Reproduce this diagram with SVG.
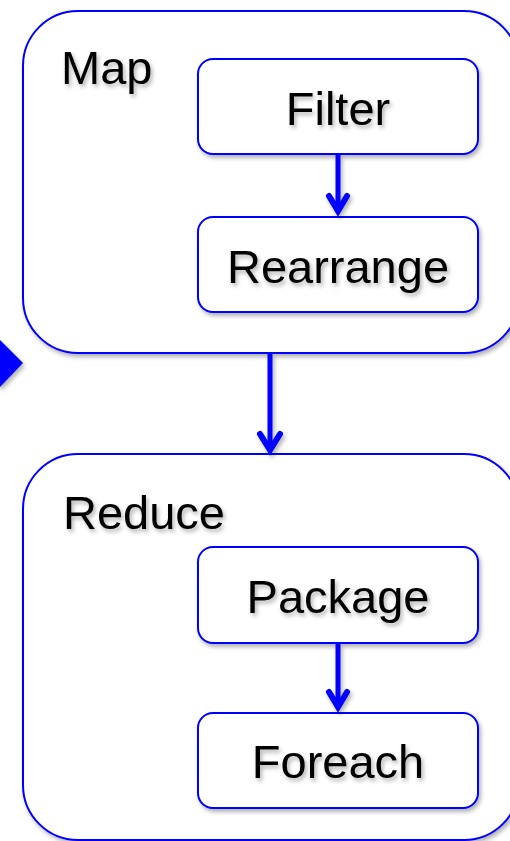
<svg xmlns="http://www.w3.org/2000/svg" width="510" height="841" viewBox="0 0 510 841">
  <style>
    .outer { fill: #fff; stroke: #0000ff; stroke-width: 2; }
    .box { fill: #fff; stroke: #0000ff; stroke-width: 2; }
    .lbl { font-family: "Liberation Sans", Arial, sans-serif; font-size: 47px; fill: #000; }
    .mid { text-anchor: middle; }
    .edge { fill: none; stroke: #0000ff; stroke-width: 5; stroke-linecap: butt; }
    .head { fill: none; stroke: #0000ff; stroke-width: 6; stroke-linejoin: miter; stroke-miterlimit: 10; stroke-linecap: round; }
  </style>
  <defs>
    <filter id="shadow" x="-10%" y="-10%" width="130%" height="130%">
      <feDropShadow dx="2" dy="3" stdDeviation="2" flood-color="#000" flood-opacity="0.3"/>
    </filter>
  </defs>

  <rect width="510" height="841" fill="#fff"/>

  <!-- side marker -->
  <polygon points="0,340 23,363 0,387 -23,363" fill="#0000ff" filter="url(#shadow)"/>

  <g id="map">
    <rect class="outer" x="23" y="11" width="496" height="342" rx="55" ry="55" filter="url(#shadow)"/>
    <text class="lbl" x="61" y="84" filter="url(#shadow)">Map</text>
  </g>

  <g id="filter">
    <rect class="box" x="198" y="59" width="280" height="95" rx="15" ry="15" filter="url(#shadow)"/>
    <text class="lbl mid" x="338" y="125" filter="url(#shadow)">Filter</text>
  </g>

  <g id="rearrange">
    <rect class="box" x="198" y="217" width="280" height="95" rx="15" ry="15" filter="url(#shadow)"/>
    <text class="lbl mid" x="338" y="283" filter="url(#shadow)">Rearrange</text>
  </g>

  <g id="reduce">
    <rect class="outer" x="23" y="454" width="496" height="386" rx="55" ry="55" filter="url(#shadow)"/>
    <text class="lbl" x="63" y="529" filter="url(#shadow)">Reduce</text>
  </g>

  <g id="package">
    <rect class="box" x="198" y="547" width="280" height="96" rx="15" ry="15" filter="url(#shadow)"/>
    <text class="lbl mid" x="338" y="613" filter="url(#shadow)">Package</text>
  </g>

  <g id="foreach">
    <rect class="box" x="198" y="713" width="280" height="95" rx="15" ry="15" filter="url(#shadow)"/>
    <text class="lbl mid" x="338" y="778" filter="url(#shadow)">Foreach</text>
  </g>

  <g id="connectors" filter="url(#shadow)">
    <!-- Filter to Rearrange -->
    <line class="edge" x1="338" y1="155" x2="338" y2="210"/>
    <polyline class="head" points="329,196 338,211 347,196"/>
    <!-- Map to Reduce -->
    <line class="edge" x1="270" y1="354" x2="270" y2="448"/>
    <polyline class="head" points="260,434 270,450 280,434"/>
    <!-- Package to Foreach -->
    <line class="edge" x1="338" y1="644" x2="338" y2="706"/>
    <polyline class="head" points="329,692 338,707 347,692"/>
  </g>
</svg>
